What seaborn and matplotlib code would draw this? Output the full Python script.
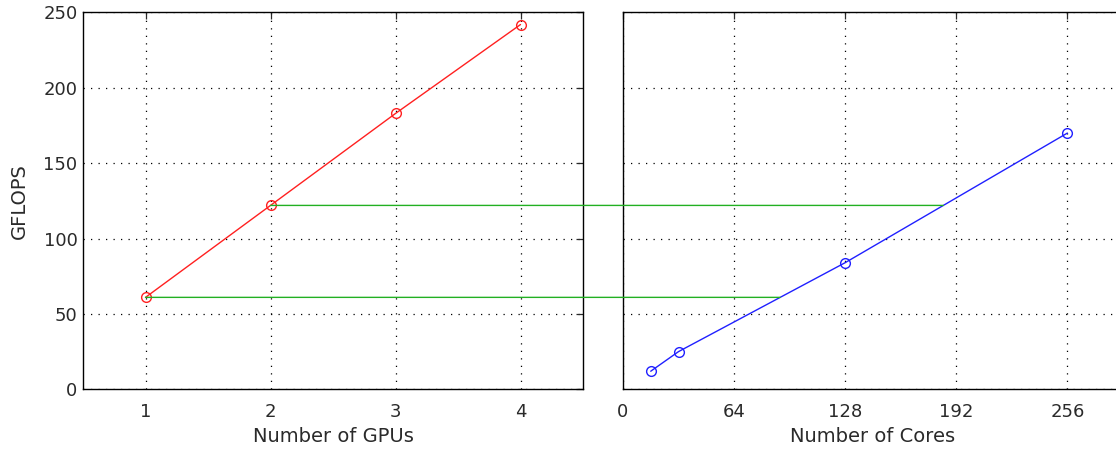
import numpy as np
import pandas as pd
import seaborn as sns
import matplotlib.pyplot as plt
from matplotlib.patches import ConnectionPatch

# values
gpus = [1, 2, 3, 4]
gpu_gflops = [61, 122, 183, 242]
cores = [16, 32, 128, 256]
core_gflops = [12, 25, 84, 170]
# green guides start at the 1 GPU and 2 GPU points
guide_gpus = [1, 2]

core_ticks = [0, 64, 128, 192, 256]
gflops_ticks = [0, 50, 100, 150, 200, 250]

sns.set_style("white")
plt.rcParams["font.family"] = ["DejaVu Sans"]

fig = plt.figure(figsize=(11.16, 4.54), dpi=100)
ax1 = fig.add_axes([0.0744, 0.1425, 0.448, 0.830])
ax2 = fig.add_axes([0.5582, 0.1425, 0.448, 0.830])

gpu_df = pd.DataFrame({"gpus": gpus, "gflops": gpu_gflops})
core_df = pd.DataFrame({"cores": cores, "gflops": core_gflops})

sns.lineplot(data=gpu_df, x="gpus", y="gflops", ax=ax1, color="#ff2020",
             marker="o", markersize=7, markerfacecolor="none",
             markeredgecolor="#ff2020", markeredgewidth=1.0, linewidth=1.0)
sns.lineplot(data=core_df, x="cores", y="gflops", ax=ax2, color="#2020ff",
             marker="o", markersize=7, markerfacecolor="none",
             markeredgecolor="#2020ff", markeredgewidth=1.0, linewidth=1.0)

ax1.set_xlim(0.5, 4.5)
ax1.set_xticks(gpus)
ax2.set_xlim(0, 288)
ax2.set_xticks(core_ticks)
for ax in (ax1, ax2):
    ax.set_ylim(0, 250)
    ax.set_yticks(gflops_ticks)
    ax.grid(True, color="black", linestyle=(0, (1, 5)), linewidth=0.9)
    ax.tick_params(direction="in", length=5, width=0.9, top=True, right=True,
                   colors="#2a2a2a", labelsize=13)
    ax.tick_params(axis="x", pad=10)
    ax.tick_params(axis="y", pad=4)
    for s in ax.spines.values():
        s.set_color("black")
        s.set_linewidth(1.0)
ax2.tick_params(labelleft=False)

ax1.set_xlabel("Number of GPUs", fontsize=14, labelpad=4, color="#2a2a2a")
ax1.set_ylabel("GFLOPS", fontsize=14, labelpad=10, color="#2a2a2a")
ax2.set_xlabel("Number of Cores", fontsize=14, labelpad=4, color="#2a2a2a")
ax2.set_ylabel("")

# horizontal guides: from a GPU point to where the CPU line reaches the same GFLOPS
for g in guide_gpus:
    yval = gpu_gflops[gpus.index(g)]
    xcross = np.interp(yval, core_gflops, cores)
    con = ConnectionPatch(xyA=(g, yval), coordsA=ax1.transData,
                          xyB=(xcross, yval), coordsB=ax2.transData,
                          color="#22b022", linewidth=1.0, zorder=3)
    fig.add_artist(con)

fig.savefig("out.png", dpi=100)
